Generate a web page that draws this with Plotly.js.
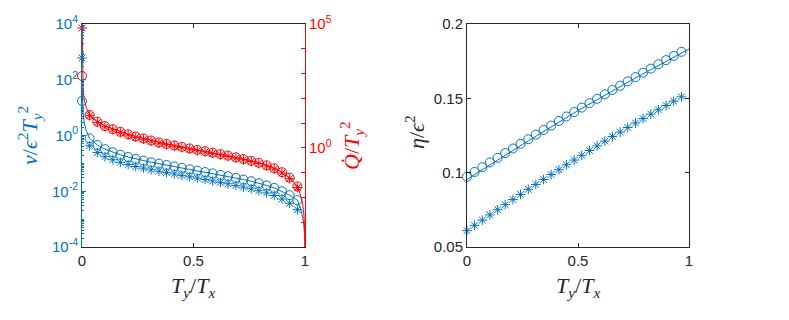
<!DOCTYPE html>
<html>
<head>
<meta charset="utf-8">
<script src="https://cdn.plot.ly/plotly-3.0.1.min.js"></script>
<style>
  html, body { margin: 0; padding: 0; background: #fff; }
  #myDiv { width: 789px; height: 320px; }
</style>
</head>
<body>
<div id="myDiv"></div>
<script>
// marker positions T_y/T_x (shared by both panels)
var markerX = [0, 0.034, 0.069, 0.103, 0.138, 0.172, 0.207, 0.241, 0.276, 0.310,
  0.345, 0.379, 0.414, 0.448, 0.483, 0.517, 0.552, 0.586, 0.621, 0.655,
  0.690, 0.724, 0.759, 0.793, 0.828, 0.862, 0.897, 0.931, 0.966];

// left panel, values read as log10 of the plotted quantity
var vCircLog = [1.24, -0.10, -0.34, -0.49, -0.60, -0.69, -0.77, -0.84, -0.90, -0.96,
  -1.01, -1.06, -1.11, -1.16, -1.21, -1.26, -1.31, -1.36, -1.41, -1.46,
  -1.52, -1.58, -1.64, -1.71, -1.79, -1.88, -2.00, -2.14, -2.32];
var vStarLog = [2.78, -0.37, -0.61, -0.76, -0.87, -0.96, -1.04, -1.11, -1.17, -1.23,
  -1.28, -1.33, -1.38, -1.43, -1.48, -1.53, -1.58, -1.63, -1.68, -1.73,
  -1.79, -1.85, -1.91, -1.98, -2.06, -2.15, -2.28, -2.43, -2.66];
var qCircLog = [2.90, 1.33, 1.06, 0.88, 0.76, 0.65, 0.55, 0.46, 0.38, 0.30,
  0.22, 0.16, 0.10, 0.04, -0.02, -0.08, -0.13, -0.19, -0.25, -0.31,
  -0.38, -0.45, -0.52, -0.60, -0.70, -0.82, -0.98, -1.20, -1.55];
var qStarLog = [4.84, 1.30, 1.03, 0.85, 0.73, 0.62, 0.52, 0.43, 0.35, 0.27,
  0.19, 0.13, 0.07, 0.01, -0.05, -0.11, -0.16, -0.22, -0.28, -0.34,
  -0.41, -0.48, -0.55, -0.63, -0.73, -0.85, -1.01, -1.24, -1.60];

// solid curves: extra points near the two ends
var headX = [0.0003, 0.002, 0.005, 0.01, 0.02];
var tailX = [0.98, 0.99, 0.995, 0.999, 1];
var vHeadLog = [1.8, 1.3, 0.8, 0.45, 0.15];
var vTailLog = [-2.62, -2.95, -3.25, -3.7, -4.2];
var qHeadLog = [5.3, 3.3, 2.4, 1.95, 1.6];
var qTailLog = [-1.9, -2.3, -2.7, -3.4, -4.5];

// right panel
var etaCirc = [0.0973, 0.1005, 0.1037, 0.1069, 0.1100, 0.1132, 0.1163, 0.1194, 0.1225, 0.1256,
  0.1287, 0.1317, 0.1348, 0.1378, 0.1408, 0.1438, 0.1468, 0.1497, 0.1527, 0.1556,
  0.1585, 0.1614, 0.1643, 0.1672, 0.1700, 0.1729, 0.1757, 0.1785, 0.1813];
var etaStar = [0.0610, 0.0646, 0.0681, 0.0716, 0.0751, 0.0785, 0.0820, 0.0854, 0.0888, 0.0921,
  0.0954, 0.0988, 0.1020, 0.1053, 0.1085, 0.1117, 0.1149, 0.1180, 0.1212, 0.1243,
  0.1273, 0.1304, 0.1334, 0.1364, 0.1394, 0.1423, 0.1452, 0.1481, 0.1510];
var etaLineX = [0, 0.25, 0.5, 0.75, 1];
var etaLine = [0.0955, 0.1190, 0.1418, 0.1630, 0.1832];

var blue = '#0072BD', red = '#FF0000', dark = '#262626';
function pow10(a) { return a.map(function (v) { return Math.pow(10, v); }); }

var lineX = headX.concat(markerX.slice(1), tailX);
var vLine = vHeadLog.concat(vCircLog.slice(1), vTailLog);
var qLine = qHeadLog.concat(qCircLog.slice(1), qTailLog);

function mk(sym, size, col) {
  return {symbol: sym, size: size, color: col, line: {color: col, width: 1}};
}

var data = [
  {x: lineX, y: pow10(vLine), mode: 'lines', line: {color: blue, width: 1}, xaxis: 'x', yaxis: 'y'},
  {x: markerX, y: pow10(vCircLog), mode: 'markers', cliponaxis: false,
    marker: mk('circle-open', 9, blue), xaxis: 'x', yaxis: 'y'},
  {x: markerX, y: pow10(vStarLog), mode: 'markers', cliponaxis: false,
    marker: mk('asterisk-open', 8, blue), xaxis: 'x', yaxis: 'y'},
  {x: lineX, y: pow10(qLine), mode: 'lines', line: {color: red, width: 1}, xaxis: 'x', yaxis: 'y2'},
  {x: markerX, y: pow10(qCircLog), mode: 'markers', cliponaxis: false,
    marker: mk('circle-open', 9, red), xaxis: 'x', yaxis: 'y2'},
  {x: markerX, y: pow10(qStarLog), mode: 'markers', cliponaxis: false,
    marker: mk('asterisk-open', 8, red), xaxis: 'x', yaxis: 'y2'},
  {x: etaLineX, y: etaLine, mode: 'lines', line: {color: blue, width: 1}, xaxis: 'x2', yaxis: 'y3'},
  {x: markerX, y: etaCirc, mode: 'markers', cliponaxis: false,
    marker: mk('circle-open', 9, blue), xaxis: 'x2', yaxis: 'y3'},
  {x: markerX, y: etaStar, mode: 'markers', cliponaxis: false,
    marker: mk('asterisk-open', 8, blue), xaxis: 'x2', yaxis: 'y3'}
];

var tickFont = {family: 'Liberation Sans, Arial, sans-serif', size: 15, color: dark};
var labFont = {family: 'Liberation Serif, Times New Roman, serif', size: 22, color: dark};
var yDom = [0.228, 0.925];

function xAx(dom, anchor) {
  return {
    domain: dom, anchor: anchor, range: [0, 1], tickvals: [0, 0.5, 1], ticktext: ['0', '0.5', '1'],
    ticks: 'inside', ticklen: 4, tickcolor: dark, showline: true, linecolor: dark, linewidth: 1,
    mirror: 'ticks', showgrid: false, zeroline: false, tickfont: tickFont
  };
}

function label(text, px, py, angle, col) {
  return {text: text, x: px / 789, y: 1 - py / 320, xref: 'paper', yref: 'paper',
    xanchor: 'center', yanchor: 'middle', showarrow: false, textangle: angle,
    font: Object.assign({}, labFont, {color: col})};
}

var layout = {
  width: 789, height: 320,
  margin: {l: 0, r: 0, t: 0, b: 0},
  paper_bgcolor: '#fff', plot_bgcolor: '#fff',
  showlegend: false,
  xaxis: xAx([82 / 789, 305 / 789], 'y'),
  xaxis2: xAx([467 / 789, 689 / 789], 'y3'),
  yaxis: {
    domain: yDom, anchor: 'x', type: 'log', range: [-4, 4],
    tickvals: [1e-4, 1e-2, 1, 1e2, 1e4],
    ticktext: ['10<sup>-4</sup>', '10<sup>-2</sup>', '10<sup>0</sup>', '10<sup>2</sup>', '10<sup>4</sup>'],
    ticks: 'inside', ticklen: 4, tickcolor: blue, showline: true, linecolor: blue,
    minor: {dtick: 'D1', ticks: 'inside', ticklen: 2, tickcolor: blue, showgrid: false},
    showgrid: false, zeroline: false, tickfont: Object.assign({}, tickFont, {color: blue})
  },
  yaxis2: {
    overlaying: 'y', side: 'right', anchor: 'x', type: 'log', range: [-4, 5],
    tickvals: [1e-4, 1e-3, 1e-2, 1e-1, 1, 1e1, 1e2, 1e3, 1e4, 1e5],
    ticktext: ['', '', '', '', '10<sup>0</sup>', '', '', '', '', '10<sup>5</sup>'],
    ticks: 'inside', ticklen: 4, tickcolor: red, showline: true, linecolor: red,
    showgrid: false, zeroline: false, tickfont: Object.assign({}, tickFont, {color: red})
  },
  yaxis3: {
    domain: yDom, anchor: 'x2', range: [0.05, 0.2],
    tickvals: [0.05, 0.1, 0.15, 0.2], ticktext: ['0.05', '0.1', '0.15', '0.2'],
    ticks: 'inside', ticklen: 4, tickcolor: dark, showline: true, linecolor: dark,
    mirror: 'ticks', showgrid: false, zeroline: false, tickfont: tickFont
  },
  annotations: [
    label('<i>T</i><sub><i>y</i></sub>/<i>T</i><sub><i>x</i></sub>', 193, 287, 0, dark),
    label('<i>T</i><sub><i>y</i></sub>/<i>T</i><sub><i>x</i></sub>', 578, 287, 0, dark),
    label('<i>v</i>/<i>ϵ</i><sup>2</sup><i>T</i><sub><i>y</i></sub><sup>2</sup>', 29, 136, -90, blue),
    label('<i>Q̇</i>/<i>T</i><sub><i>y</i></sub><sup>2</sup>', 351, 146, -90, red),
    label('<i>η</i>/<i>ϵ</i><sup>2</sup>', 415, 132, -90, dark)
  ]
};

Plotly.newPlot('myDiv', data, layout, {displayModeBar: false, staticPlot: true});
</script>
</body>
</html>
